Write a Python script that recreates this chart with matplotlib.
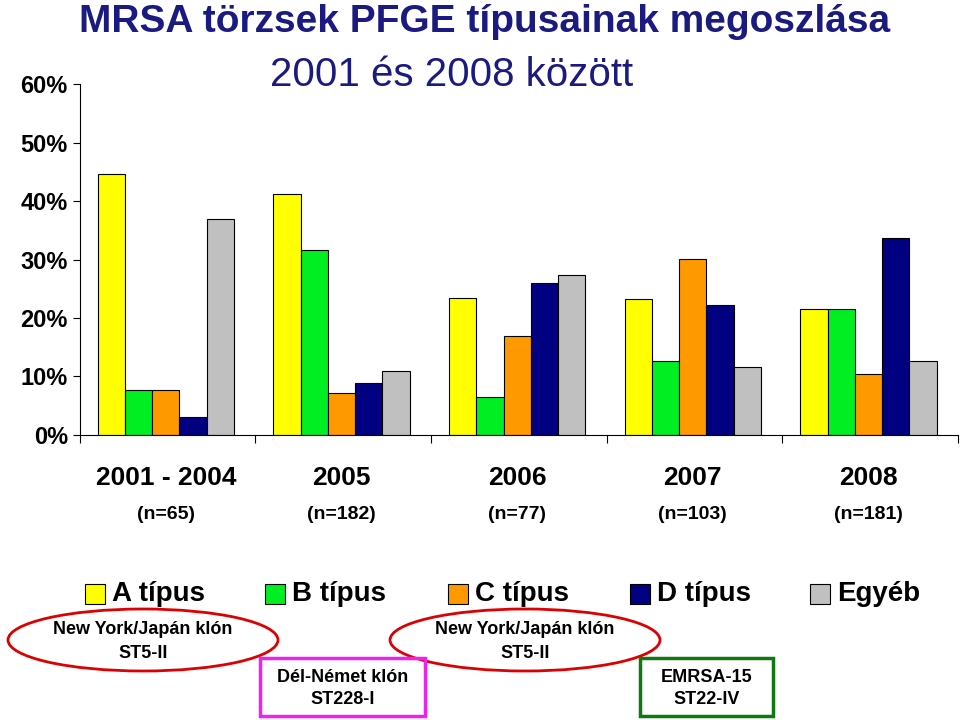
import matplotlib
matplotlib.use("Agg")
import matplotlib.pyplot as plt
import numpy as np
from matplotlib.patches import Ellipse, Rectangle

groups = ["2001 - 2004", "2005", "2006", "2007", "2008"]
ns = ["(n=65)", "(n=182)", "(n=77)", "(n=103)", "(n=181)"]
series = ["A típus", "B típus", "C típus", "D típus", "Egyéb"]
A = [44.6, 41.2, 23.4, 23.3, 21.5]
B = [7.7, 31.7, 6.5, 12.6, 21.5]
C = [7.7, 7.1, 16.9, 30.1, 10.5]
D = [3.1, 8.8, 26.0, 22.3, 33.7]
E = [36.9, 11.0, 27.3, 11.7, 12.7]
colors = ["#ffff00", "#00ee22", "#ff9900", "#000080", "#c0c0c0"]

fig = plt.figure(figsize=(9.6, 7.2), dpi=100)
ax = fig.add_axes([0.083, 0.396, 0.915, 0.487])
x = np.arange(5)
w = 0.155
for i, (vals, c) in enumerate(zip([A, B, C, D, E], colors)):
    ax.bar(x + (i - 2) * w, vals, w, color=c, edgecolor="black", linewidth=0.8)
ax.set_xlim(-0.49, 4.49)
ax.set_ylim(0, 60)
ax.set_yticks(range(0, 61, 10))
ax.set_yticklabels([f"{v}%" for v in range(0, 61, 10)], fontsize=17, fontweight="bold", family="Liberation Sans")
ax.set_xticks(np.arange(-0.49, 4.6, 1.0))
ax.set_xticklabels([])
ax.tick_params(axis="x", length=6, direction="out")
ax.tick_params(axis="y", length=5)
for s in ["top", "right"]:
    ax.spines[s].set_visible(False)
for xi, g, n in zip(x, groups, ns):
    ax.text(xi, -7.3, g, ha="center", va="center", fontsize=19, fontweight="bold", family="Liberation Sans", clip_on=False)
    ax.text(xi, -13.6, n, ha="center", va="center", fontsize=14, fontweight="bold", family="Liberation Sans", clip_on=False)

fig.text(0.505, 0.97, "MRSA törzsek PFGE típusainak megoszlása", ha="center", va="center", fontsize=28, fontweight="bold", color="#1a1a80", family="Liberation Sans")
fig.text(0.47, 0.896, "2001 és 2008 között", ha="center", va="center", fontsize=29, color="#1a1a80", family="Liberation Sans")

# legend
lx = [85, 265, 448, 630, 810]
for px, lab, c in zip(lx, series, colors):
    fig.patches.append(Rectangle((px / 960, 1 - 604 / 720), 20 / 960, 20 / 720, transform=fig.transFigure, facecolor=c, edgecolor="black", linewidth=0.8))
    fig.text((px + 27) / 960, 1 - 594 / 720, lab, ha="left", va="center", fontsize=20, fontweight="bold", family="Liberation Sans")

def ell(cx, cy):
    fig.patches.append(Ellipse((cx / 960, 1 - cy / 720), 270 / 960, 62 / 720, transform=fig.transFigure, facecolor="none", edgecolor="#dd0000", linewidth=2))
    fig.text(cx / 960, 1 - (cy - 10) / 720, "New York/Japán klón", ha="center", va="center", fontsize=13, fontweight="bold", family="Liberation Sans")
    fig.text(cx / 960, 1 - (cy + 13) / 720, "ST5-II", ha="center", va="center", fontsize=13, fontweight="bold", family="Liberation Sans")
ell(143, 640)
ell(525, 640)

def box(x0, y0, w_, h_, col, l1, l2):
    fig.patches.append(Rectangle((x0 / 960, 1 - (y0 + h_) / 720), w_ / 960, h_ / 720, transform=fig.transFigure, facecolor="none", edgecolor=col, linewidth=2.5))
    cx = x0 + w_ / 2
    fig.text(cx / 960, 1 - (y0 + 19) / 720, l1, ha="center", va="center", fontsize=13, fontweight="bold", family="Liberation Sans")
    fig.text(cx / 960, 1 - (y0 + 42) / 720, l2, ha="center", va="center", fontsize=13, fontweight="bold", family="Liberation Sans")
box(260, 658, 165, 58, "#ee22ee", "Dél-Német klón", "ST228-I")
box(640, 658, 133, 58, "#117711", "EMRSA-15", "ST22-IV")

fig.savefig("out.png", dpi=100)
